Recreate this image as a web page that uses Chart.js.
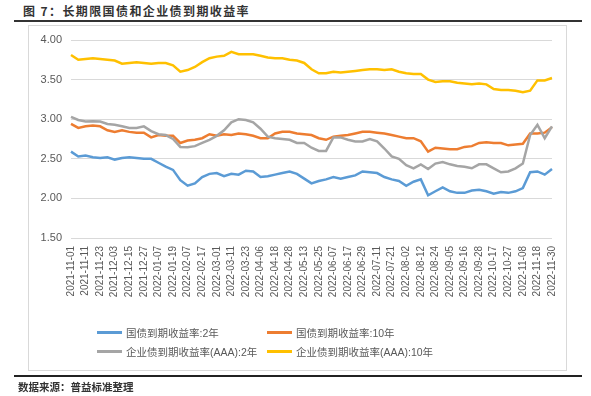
<!DOCTYPE html>
<html>
<head>
<meta charset="utf-8">
<script src="https://cdn.jsdelivr.net/npm/chart.js@4.4.1/dist/chart.umd.min.js"></script>
<style>
  html,body{margin:0;padding:0;background:#fff;}
  #wrap{position:relative;width:591px;height:396px;overflow:hidden;background:#fff;}
  #title{position:absolute;left:23px;top:3px;font:bold 12px "Noto Sans CJK SC",sans-serif;letter-spacing:1.4px;color:#333;white-space:nowrap;line-height:16px;}
  #tline{position:absolute;left:14px;top:20px;width:568px;height:2px;background:#333;}
  #box{position:absolute;left:28px;top:25px;width:537px;height:344px;border:1px solid #d9d9d9;}
  #fline{position:absolute;left:14px;top:375px;width:568px;height:1.5px;background:#222;}
  #foot{position:absolute;left:18px;top:379px;font:bold 10.5px "Noto Sans CJK SC",sans-serif;color:#333;white-space:nowrap;line-height:16px;}
  canvas{position:absolute;left:0;top:0;}
  .lg{position:absolute;height:14px;line-height:14px;font:10.5px "Liberation Sans","Noto Sans CJK SC",sans-serif;color:#595959;white-space:nowrap;}
  .lg i{position:absolute;left:0;top:6px;width:25px;height:3px;}
  .lg span{position:absolute;left:29px;top:0;}
</style>
</head>
<body>
<div id="wrap">
  <div id="title">图 7：长期限国债和企业债到期收益率</div>
  <div id="tline"></div>
  <div id="box"></div>
  <canvas id="c" width="591" height="396"></canvas>
  <div id="legend"></div>
  <div id="fline"></div>
  <div id="foot">数据来源：普益标准整理</div>
</div>
<script>
const tickLabels = ["2021-11-01","2021-11-11","2021-11-23","2021-12-03","2021-12-15","2021-12-27","2022-01-07","2022-01-19","2022-02-07","2022-02-17","2022-03-01","2022-03-11","2022-03-23","2022-04-06","2022-04-18","2022-04-28","2022-05-13","2022-05-25","2022-06-07","2022-06-17","2022-06-29","2022-07-11","2022-07-21","2022-08-02","2022-08-12","2022-08-24","2022-09-05","2022-09-16","2022-09-28","2022-10-17","2022-10-27","2022-11-08","2022-11-18","2022-11-30"];

const seriesNames = ["国债到期收益率:2年","国债到期收益率:10年","企业债到期收益率(AAA):2年","企业债到期收益率(AAA):10年"];
const seriesColors = ["#5B9BD5","#ED7D31","#A5A5A5","#FFC000"];

const gov2y = [2.59,2.53,2.54,2.52,2.51,2.52,2.49,2.51,2.52,2.51,2.50,2.50,2.45,2.40,2.36,2.23,2.16,2.19,2.27,2.31,2.32,2.28,2.31,2.30,2.35,2.34,2.27,2.28,2.30,2.32,2.34,2.31,2.25,2.19,2.22,2.24,2.27,2.25,2.27,2.29,2.34,2.33,2.32,2.27,2.24,2.22,2.16,2.21,2.24,2.04,2.09,2.14,2.09,2.07,2.07,2.10,2.11,2.09,2.06,2.08,2.07,2.09,2.13,2.33,2.34,2.30,2.37];
const gov10y = [2.94,2.89,2.91,2.92,2.91,2.86,2.84,2.86,2.84,2.83,2.83,2.77,2.80,2.79,2.79,2.70,2.73,2.74,2.76,2.81,2.79,2.81,2.80,2.82,2.81,2.79,2.76,2.76,2.82,2.84,2.84,2.82,2.81,2.80,2.76,2.74,2.78,2.79,2.80,2.82,2.84,2.84,2.83,2.82,2.80,2.78,2.76,2.76,2.72,2.59,2.64,2.63,2.62,2.62,2.65,2.66,2.70,2.71,2.70,2.70,2.67,2.68,2.69,2.82,2.82,2.83,2.90];
const corp2y = [3.03,2.99,2.97,2.975,2.97,2.94,2.93,2.91,2.89,2.89,2.91,2.85,2.81,2.80,2.75,2.65,2.645,2.66,2.70,2.74,2.79,2.86,2.96,3.00,2.99,2.96,2.88,2.78,2.76,2.75,2.74,2.70,2.70,2.64,2.60,2.60,2.77,2.77,2.74,2.72,2.72,2.75,2.72,2.63,2.53,2.50,2.42,2.38,2.43,2.37,2.44,2.46,2.43,2.41,2.40,2.38,2.43,2.43,2.38,2.33,2.34,2.38,2.44,2.80,2.93,2.76,2.91];
const corp10y = [3.81,3.75,3.76,3.77,3.76,3.75,3.74,3.70,3.71,3.72,3.71,3.70,3.71,3.71,3.68,3.60,3.62,3.66,3.72,3.77,3.79,3.80,3.85,3.82,3.82,3.82,3.80,3.78,3.77,3.77,3.75,3.74,3.71,3.63,3.58,3.58,3.60,3.59,3.60,3.61,3.62,3.63,3.63,3.62,3.63,3.60,3.58,3.57,3.57,3.50,3.47,3.48,3.48,3.46,3.45,3.44,3.45,3.44,3.38,3.37,3.37,3.36,3.34,3.36,3.49,3.49,3.52];

const yTicks = [1.5, 2.0, 2.5, 3.0, 3.5, 4.0];

// categories: a tick label every second point
const labels = [];
for (let i = 0; i < gov2y.length; i++) labels.push(i % 2 === 0 ? tickLabels[i / 2] : "");

const allSeries = [gov2y, gov10y, corp2y, corp10y];
const datasets = allSeries.map((d, i) => ({
  label: seriesNames[i],
  data: d,
  borderColor: seriesColors[i],
  backgroundColor: seriesColors[i],
  borderWidth: 2.5,
  pointRadius: 0,
  tension: 0,
  fill: false,
  order: 4 - i
}));

// HTML legend
const lgPos = [[97,325],[267,325],[97,344],[267,344]];
const lgEl = document.getElementById('legend');
seriesNames.forEach((n, i) => {
  const d = document.createElement('div');
  d.className = 'lg';
  d.style.left = lgPos[i][0] + 'px';
  d.style.top = lgPos[i][1] + 'px';
  d.innerHTML = '<i style="background:' + seriesColors[i] + '"></i><span></span>';
  d.querySelector('span').textContent = n;
  lgEl.appendChild(d);
});

new Chart(document.getElementById('c'), {
  type: 'line',
  data: { labels: labels, datasets: datasets },
  options: {
    responsive: false,
    animation: false,
    events: [],
    layout: { padding: { left: 0, top: 40, right: 39, bottom: 88 } },
    plugins: { legend: { display: false }, tooltip: { enabled: false }, title: { display: false } },
    scales: {
      x: {
        offset: false,
        grid: { display: false, drawTicks: false },
        border: { display: false },
        afterFit: s => { s.height = 70; },
        ticks: {
          autoSkip: false,
          maxRotation: 90,
          minRotation: 90,
          padding: 8,
          color: '#595959',
          font: { family: '"Liberation Sans", Arial, sans-serif', size: 10 }
        }
      },
      y: {
        min: 1.5,
        max: 4.0,
        afterFit: s => { s.width = 71; },
        afterBuildTicks: s => { s.ticks = yTicks.map(v => ({ value: v })); },
        grid: { color: '#d9d9d9', lineWidth: 1, drawTicks: false },
        border: { display: false },
        ticks: {
          padding: 9,
          color: '#595959',
          font: { family: '"Liberation Sans", Arial, sans-serif', size: 11 },
          callback: v => v.toFixed(2)
        }
      }
    }
  }
});
</script>
</body>
</html>
